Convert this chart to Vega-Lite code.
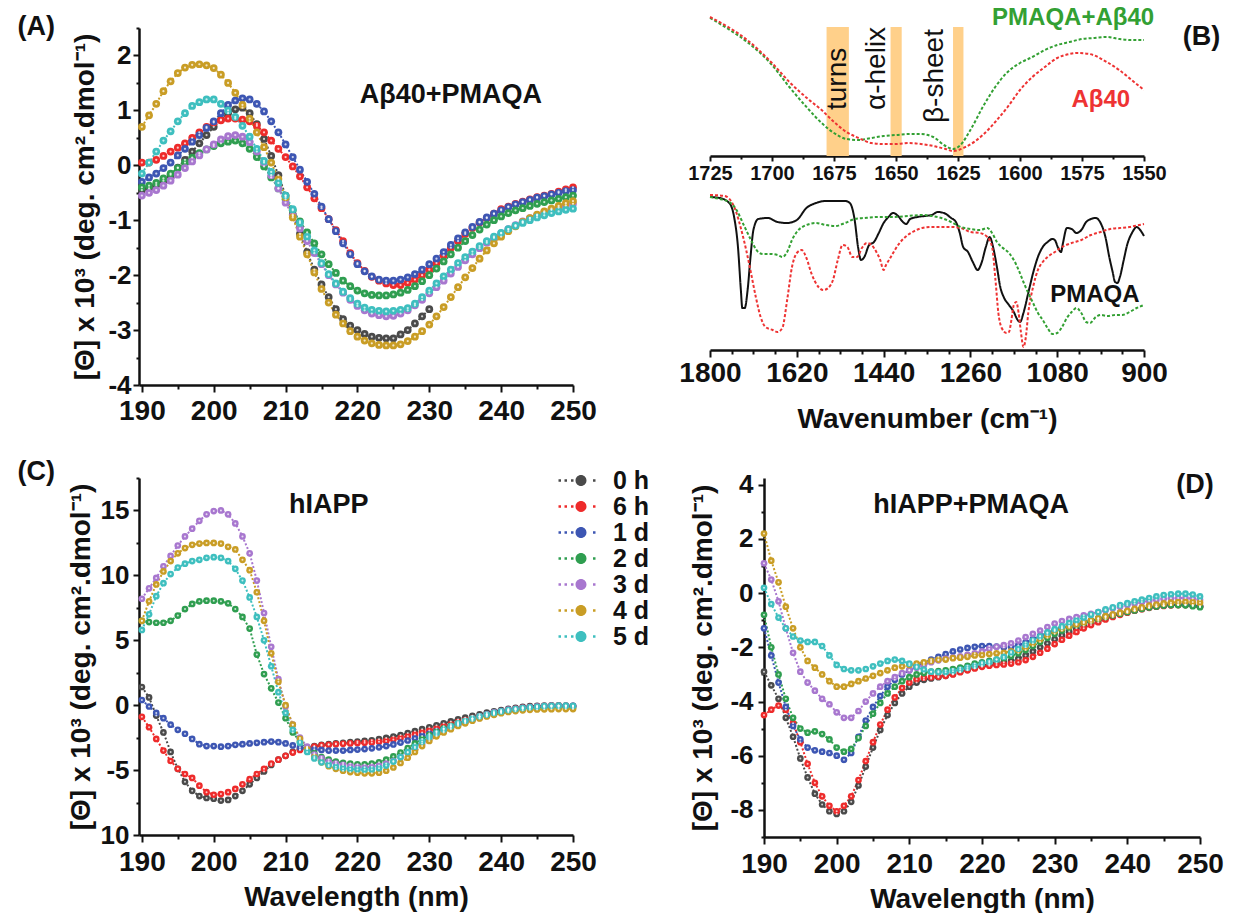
{
"$schema": "https://vega.github.io/schema/vega-lite/v6.json",
"background": "white",
"padding": {"left": 17, "top": 6, "right": 5, "bottom": 0},
"config": {
  "font": "Liberation Sans",
  "view": {"stroke": null},
  "axis": {"grid": false, "domainColor": "#111", "domainWidth": 2.5, "tickColor": "#111", "tickWidth": 2, "labelColor": "#111", "titleColor": "#111", "labelFontWeight": "bold", "labelFontSize": 28, "titleFontWeight": "bold", "titleFontSize": 28, "labelFlush": false, "labelOverlap": false},
  "axisY": {"labelFontSize": 26}
},
"datasets": {
  "A": [
    {"w":190,"0 h":-0.45,"6 h":0.05,"1 d":-0.3,"2 d":-0.4,"3 d":-0.55,"4 d":0.7,"5 d":-0.15},
    {"w":191,"0 h":-0.42,"6 h":0.05,"1 d":-0.22,"2 d":-0.37,"3 d":-0.5,"4 d":0.91,"5 d":0.05},
    {"w":192,"0 h":-0.36,"6 h":0.1,"1 d":-0.15,"2 d":-0.32,"3 d":-0.45,"4 d":1.12,"5 d":0.25},
    {"w":193,"0 h":-0.28,"6 h":0.17,"1 d":-0.05,"2 d":-0.24,"3 d":-0.37,"4 d":1.35,"5 d":0.45},
    {"w":194,"0 h":-0.17,"6 h":0.25,"1 d":0.05,"2 d":-0.15,"3 d":-0.28,"4 d":1.53,"5 d":0.62},
    {"w":195,"0 h":-0.04,"6 h":0.32,"1 d":0.18,"2 d":-0.05,"3 d":-0.17,"4 d":1.68,"5 d":0.8},
    {"w":196,"0 h":0.1,"6 h":0.4,"1 d":0.3,"2 d":0.05,"3 d":-0.05,"4 d":1.78,"5 d":0.95},
    {"w":197,"0 h":0.25,"6 h":0.5,"1 d":0.43,"2 d":0.14,"3 d":0.07,"4 d":1.83,"5 d":1.08},
    {"w":198,"0 h":0.4,"6 h":0.6,"1 d":0.55,"2 d":0.22,"3 d":0.18,"4 d":1.84,"5 d":1.15},
    {"w":199,"0 h":0.55,"6 h":0.7,"1 d":0.68,"2 d":0.29,"3 d":0.29,"4 d":1.82,"5 d":1.2},
    {"w":200,"0 h":0.7,"6 h":0.78,"1 d":0.8,"2 d":0.35,"3 d":0.38,"4 d":1.77,"5 d":1.2},
    {"w":201,"0 h":0.83,"6 h":0.82,"1 d":0.95,"2 d":0.4,"3 d":0.47,"4 d":1.65,"5 d":1.12},
    {"w":202,"0 h":0.95,"6 h":0.85,"1 d":1.1,"2 d":0.43,"3 d":0.53,"4 d":1.5,"5 d":1.0},
    {"w":203,"0 h":1.02,"6 h":0.85,"1 d":1.18,"2 d":0.45,"3 d":0.55,"4 d":1.32,"5 d":0.88},
    {"w":204,"0 h":1.05,"6 h":0.83,"1 d":1.22,"2 d":0.4,"3 d":0.52,"4 d":1.1,"5 d":0.72},
    {"w":205,"0 h":0.95,"6 h":0.8,"1 d":1.2,"2 d":0.3,"3 d":0.42,"4 d":0.85,"5 d":0.52},
    {"w":206,"0 h":0.75,"6 h":0.72,"1 d":1.12,"2 d":0.15,"3 d":0.25,"4 d":0.6,"5 d":0.3},
    {"w":207,"0 h":0.48,"6 h":0.6,"1 d":0.98,"2 d":-0.02,"3 d":0.05,"4 d":0.33,"5 d":0.08},
    {"w":208,"0 h":0.17,"6 h":0.45,"1 d":0.8,"2 d":-0.22,"3 d":-0.18,"4 d":0.05,"5 d":-0.12},
    {"w":209,"0 h":-0.18,"6 h":0.3,"1 d":0.6,"2 d":-0.42,"3 d":-0.42,"4 d":-0.25,"5 d":-0.32},
    {"w":210,"0 h":-0.55,"6 h":0.15,"1 d":0.38,"2 d":-0.62,"3 d":-0.68,"4 d":-0.58,"5 d":-0.55},
    {"w":211,"0 h":-0.9,"6 h":-0.02,"1 d":0.15,"2 d":-0.82,"3 d":-0.92,"4 d":-0.95,"5 d":-0.8},
    {"w":212,"0 h":-1.25,"6 h":-0.2,"1 d":-0.08,"2 d":-1.02,"3 d":-1.15,"4 d":-1.3,"5 d":-1.05},
    {"w":213,"0 h":-1.58,"6 h":-0.4,"1 d":-0.3,"2 d":-1.22,"3 d":-1.38,"4 d":-1.62,"5 d":-1.3},
    {"w":214,"0 h":-1.9,"6 h":-0.6,"1 d":-0.52,"2 d":-1.42,"3 d":-1.6,"4 d":-1.95,"5 d":-1.55},
    {"w":215,"0 h":-2.17,"6 h":-0.78,"1 d":-0.75,"2 d":-1.62,"3 d":-1.8,"4 d":-2.25,"5 d":-1.78},
    {"w":216,"0 h":-2.4,"6 h":-0.98,"1 d":-0.98,"2 d":-1.8,"3 d":-2.0,"4 d":-2.5,"5 d":-1.98},
    {"w":217,"0 h":-2.62,"6 h":-1.18,"1 d":-1.2,"2 d":-1.96,"3 d":-2.17,"4 d":-2.72,"5 d":-2.15},
    {"w":218,"0 h":-2.8,"6 h":-1.38,"1 d":-1.42,"2 d":-2.1,"3 d":-2.32,"4 d":-2.88,"5 d":-2.3},
    {"w":219,"0 h":-2.92,"6 h":-1.6,"1 d":-1.62,"2 d":-2.2,"3 d":-2.45,"4 d":-3.02,"5 d":-2.42},
    {"w":220,"0 h":-3.0,"6 h":-1.78,"1 d":-1.8,"2 d":-2.28,"3 d":-2.56,"4 d":-3.12,"5 d":-2.52},
    {"w":221,"0 h":-3.07,"6 h":-1.92,"1 d":-1.93,"2 d":-2.33,"3 d":-2.64,"4 d":-3.19,"5 d":-2.59},
    {"w":222,"0 h":-3.12,"6 h":-2.03,"1 d":-2.02,"2 d":-2.36,"3 d":-2.7,"4 d":-3.24,"5 d":-2.63},
    {"w":223,"0 h":-3.14,"6 h":-2.1,"1 d":-2.08,"2 d":-2.37,"3 d":-2.73,"4 d":-3.27,"5 d":-2.65},
    {"w":224,"0 h":-3.15,"6 h":-2.15,"1 d":-2.1,"2 d":-2.37,"3 d":-2.75,"4 d":-3.28,"5 d":-2.66},
    {"w":225,"0 h":-3.15,"6 h":-2.18,"1 d":-2.1,"2 d":-2.35,"3 d":-2.74,"4 d":-3.28,"5 d":-2.65},
    {"w":226,"0 h":-3.08,"6 h":-2.18,"1 d":-2.08,"2 d":-2.32,"3 d":-2.7,"4 d":-3.26,"5 d":-2.63},
    {"w":227,"0 h":-3.0,"6 h":-2.14,"1 d":-2.04,"2 d":-2.27,"3 d":-2.64,"4 d":-3.2,"5 d":-2.6},
    {"w":228,"0 h":-2.88,"6 h":-2.08,"1 d":-1.98,"2 d":-2.2,"3 d":-2.55,"4 d":-3.12,"5 d":-2.52},
    {"w":229,"0 h":-2.75,"6 h":-2.0,"1 d":-1.9,"2 d":-2.11,"3 d":-2.45,"4 d":-3.02,"5 d":-2.4},
    {"w":230,"0 h":-2.62,"6 h":-1.9,"1 d":-1.8,"2 d":-2.0,"3 d":-2.33,"4 d":-2.9,"5 d":-2.28},
    {"w":231,"6 h":-1.78,"1 d":-1.7,"2 d":-1.88,"3 d":-2.22,"4 d":-2.75,"5 d":-2.15},
    {"w":232,"6 h":-1.64,"1 d":-1.58,"2 d":-1.75,"3 d":-2.1,"4 d":-2.58,"5 d":-2.02},
    {"w":233,"6 h":-1.5,"1 d":-1.45,"2 d":-1.62,"3 d":-1.97,"4 d":-2.4,"5 d":-1.9},
    {"w":234,"6 h":-1.38,"1 d":-1.33,"2 d":-1.5,"3 d":-1.85,"4 d":-2.22,"5 d":-1.78},
    {"w":235,"6 h":-1.25,"1 d":-1.22,"2 d":-1.38,"3 d":-1.73,"4 d":-2.04,"5 d":-1.67},
    {"w":236,"6 h":-1.14,"1 d":-1.12,"2 d":-1.27,"3 d":-1.62,"4 d":-1.87,"5 d":-1.57},
    {"w":237,"6 h":-1.04,"1 d":-1.03,"2 d":-1.17,"3 d":-1.51,"4 d":-1.7,"5 d":-1.47},
    {"w":238,"6 h":-0.96,"1 d":-0.95,"2 d":-1.08,"3 d":-1.41,"4 d":-1.55,"5 d":-1.38},
    {"w":239,"6 h":-0.88,"1 d":-0.88,"2 d":-1.0,"3 d":-1.32,"4 d":-1.42,"5 d":-1.3},
    {"w":240,"6 h":-0.8,"1 d":-0.82,"2 d":-0.93,"3 d":-1.24,"4 d":-1.3,"5 d":-1.23},
    {"w":241,"6 h":-0.75,"1 d":-0.76,"2 d":-0.87,"3 d":-1.16,"4 d":-1.2,"5 d":-1.16},
    {"w":242,"6 h":-0.7,"1 d":-0.71,"2 d":-0.82,"3 d":-1.09,"4 d":-1.11,"5 d":-1.1},
    {"w":243,"6 h":-0.66,"1 d":-0.67,"2 d":-0.78,"3 d":-1.02,"4 d":-1.03,"5 d":-1.05},
    {"w":244,"6 h":-0.62,"1 d":-0.63,"2 d":-0.74,"3 d":-0.96,"4 d":-0.96,"5 d":-1.0},
    {"w":245,"6 h":-0.58,"1 d":-0.59,"2 d":-0.7,"3 d":-0.91,"4 d":-0.9,"5 d":-0.95},
    {"w":246,"6 h":-0.55,"1 d":-0.56,"2 d":-0.67,"3 d":-0.86,"4 d":-0.84,"5 d":-0.91},
    {"w":247,"6 h":-0.52,"1 d":-0.53,"2 d":-0.64,"3 d":-0.81,"4 d":-0.79,"5 d":-0.87},
    {"w":248,"6 h":-0.48,"1 d":-0.5,"2 d":-0.61,"3 d":-0.77,"4 d":-0.74,"5 d":-0.84},
    {"w":249,"6 h":-0.44,"1 d":-0.47,"2 d":-0.58,"3 d":-0.73,"4 d":-0.69,"5 d":-0.81},
    {"w":250,"6 h":-0.4,"1 d":-0.45,"2 d":-0.55,"3 d":-0.7,"4 d":-0.65,"5 d":-0.79}
  ],
  "C": [
    {"w":190,"0 h":1.4,"6 h":-0.9,"1 d":0.4,"2 d":6.5,"3 d":8.2,"4 d":6.5,"5 d":5.8},
    {"w":191,"0 h":0.6,"6 h":-1.7,"1 d":-0.1,"2 d":6.4,"3 d":9.0,"4 d":8.0,"5 d":7.0},
    {"w":192,"0 h":-0.8,"6 h":-2.6,"1 d":-0.6,"2 d":6.35,"3 d":9.8,"4 d":9.3,"5 d":8.4},
    {"w":193,"0 h":-2.1,"6 h":-3.5,"1 d":-1.0,"2 d":6.35,"3 d":10.7,"4 d":10.3,"5 d":9.4},
    {"w":194,"0 h":-3.6,"6 h":-4.3,"1 d":-1.5,"2 d":6.5,"3 d":11.5,"4 d":11.1,"5 d":10.1},
    {"w":195,"0 h":-4.9,"6 h":-4.9,"1 d":-1.9,"2 d":6.9,"3 d":12.3,"4 d":11.7,"5 d":10.6},
    {"w":196,"0 h":-5.9,"6 h":-5.3,"1 d":-2.2,"2 d":7.4,"3 d":13.0,"4 d":12.1,"5 d":10.9},
    {"w":197,"0 h":-6.6,"6 h":-5.6,"1 d":-2.6,"2 d":7.8,"3 d":13.6,"4 d":12.35,"5 d":11.1},
    {"w":198,"0 h":-7.0,"6 h":-6.2,"1 d":-3.0,"2 d":8.0,"3 d":14.2,"4 d":12.45,"5 d":11.2},
    {"w":199,"0 h":-7.15,"6 h":-6.7,"1 d":-3.15,"2 d":8.05,"3 d":14.7,"4 d":12.5,"5 d":11.35},
    {"w":200,"0 h":-7.2,"6 h":-6.9,"1 d":-3.15,"2 d":8.05,"3 d":14.95,"4 d":12.5,"5 d":11.4},
    {"w":201,"0 h":-7.35,"6 h":-6.85,"1 d":-3.2,"2 d":8.0,"3 d":15.0,"4 d":12.45,"5 d":11.35},
    {"w":202,"0 h":-7.3,"6 h":-6.7,"1 d":-3.15,"2 d":7.85,"3 d":14.7,"4 d":12.2,"5 d":11.1},
    {"w":203,"0 h":-7.0,"6 h":-6.45,"1 d":-3.05,"2 d":7.4,"3 d":14.0,"4 d":12.0,"5 d":10.5},
    {"w":204,"0 h":-6.6,"6 h":-6.1,"1 d":-3.0,"2 d":6.8,"3 d":13.0,"4 d":11.2,"5 d":9.6},
    {"w":205,"0 h":-6.1,"6 h":-5.7,"1 d":-2.95,"2 d":5.9,"3 d":11.7,"4 d":10.4,"5 d":8.3},
    {"w":206,"0 h":-5.6,"6 h":-5.3,"1 d":-2.9,"2 d":3.9,"3 d":9.6,"4 d":8.7,"5 d":6.8},
    {"w":207,"0 h":-5.1,"6 h":-4.9,"1 d":-2.85,"2 d":2.4,"3 d":7.1,"4 d":6.5,"5 d":5.0},
    {"w":208,"0 h":-4.6,"6 h":-4.5,"1 d":-2.8,"2 d":1.3,"3 d":4.5,"4 d":4.0,"5 d":3.0},
    {"w":209,"0 h":-4.2,"6 h":-4.2,"1 d":-2.85,"2 d":0.2,"3 d":2.0,"4 d":1.8,"5 d":1.0},
    {"w":210,"0 h":-3.9,"6 h":-3.9,"1 d":-2.95,"2 d":-1.0,"3 d":-0.1,"4 d":0.0,"5 d":-0.6},
    {"w":211,"0 h":-3.6,"6 h":-3.65,"1 d":-3.1,"2 d":-2.1,"3 d":-1.5,"4 d":-1.5,"5 d":-1.9},
    {"w":212,"0 h":-3.4,"6 h":-3.45,"1 d":-3.25,"2 d":-2.8,"3 d":-2.5,"4 d":-2.6,"5 d":-2.9},
    {"w":213,"0 h":-3.25,"6 h":-3.3,"1 d":-3.35,"2 d":-3.3,"3 d":-3.2,"4 d":-3.4,"5 d":-3.6},
    {"w":214,"0 h":-3.15,"6 h":-3.2,"1 d":-3.4,"2 d":-3.7,"3 d":-3.8,"4 d":-4.0,"5 d":-4.1},
    {"w":215,"0 h":-3.05,"6 h":-3.1,"1 d":-3.45,"2 d":-4.0,"3 d":-4.1,"4 d":-4.4,"5 d":-4.4},
    {"w":216,"0 h":-3.0,"6 h":-3.05,"1 d":-3.5,"2 d":-4.2,"3 d":-4.35,"4 d":-4.7,"5 d":-4.6},
    {"w":217,"0 h":-2.95,"6 h":-3.0,"1 d":-3.5,"2 d":-4.35,"3 d":-4.5,"4 d":-4.9,"5 d":-4.75},
    {"w":218,"0 h":-2.9,"6 h":-2.97,"1 d":-3.5,"2 d":-4.45,"3 d":-4.6,"4 d":-5.05,"5 d":-4.85},
    {"w":219,"0 h":-2.85,"6 h":-2.95,"1 d":-3.45,"2 d":-4.5,"3 d":-4.7,"4 d":-5.15,"5 d":-4.92},
    {"w":220,"0 h":-2.8,"6 h":-2.92,"1 d":-3.42,"2 d":-4.55,"3 d":-4.75,"4 d":-5.2,"5 d":-4.95},
    {"w":221,"0 h":-2.75,"6 h":-2.9,"1 d":-3.38,"2 d":-4.55,"3 d":-4.78,"4 d":-5.25,"5 d":-4.97},
    {"w":222,"0 h":-2.7,"6 h":-2.87,"1 d":-3.32,"2 d":-4.5,"3 d":-4.75,"4 d":-5.25,"5 d":-4.95},
    {"w":223,"0 h":-2.62,"6 h":-2.82,"1 d":-3.25,"2 d":-4.4,"3 d":-4.65,"4 d":-5.2,"5 d":-4.85},
    {"w":224,"0 h":-2.52,"6 h":-2.75,"1 d":-3.15,"2 d":-4.2,"3 d":-4.5,"4 d":-5.05,"5 d":-4.65},
    {"w":225,"0 h":-2.42,"6 h":-2.65,"1 d":-3.02,"2 d":-3.95,"3 d":-4.3,"4 d":-4.8,"5 d":-4.35},
    {"w":226,"0 h":-2.3,"6 h":-2.53,"1 d":-2.88,"2 d":-3.65,"3 d":-4.0,"4 d":-4.45,"5 d":-4.0},
    {"w":227,"0 h":-2.15,"6 h":-2.4,"1 d":-2.72,"2 d":-3.3,"3 d":-3.65,"4 d":-4.05,"5 d":-3.6},
    {"w":228,"0 h":-2.0,"6 h":-2.25,"1 d":-2.55,"2 d":-2.95,"3 d":-3.3,"4 d":-3.6,"5 d":-3.2},
    {"w":229,"0 h":-1.85,"6 h":-2.1,"1 d":-2.37,"2 d":-2.6,"3 d":-2.95,"4 d":-3.15,"5 d":-2.8},
    {"w":230,"0 h":-1.7,"6 h":-1.95,"1 d":-2.18,"2 d":-2.3,"3 d":-2.6,"4 d":-2.75,"5 d":-2.45},
    {"w":231,"0 h":-1.55,"6 h":-1.8,"1 d":-2.0,"2 d":-2.05,"3 d":-2.3,"4 d":-2.4,"5 d":-2.15},
    {"w":232,"0 h":-1.4,"6 h":-1.63,"1 d":-1.82,"2 d":-1.8,"3 d":-2.0,"4 d":-2.1,"5 d":-1.88},
    {"w":233,"0 h":-1.25,"6 h":-1.47,"1 d":-1.65,"2 d":-1.6,"3 d":-1.75,"4 d":-1.85,"5 d":-1.63},
    {"w":234,"0 h":-1.1,"6 h":-1.3,"1 d":-1.48,"2 d":-1.4,"3 d":-1.5,"4 d":-1.6,"5 d":-1.4},
    {"w":235,"0 h":-0.96,"6 h":-1.15,"1 d":-1.3,"2 d":-1.22,"3 d":-1.28,"4 d":-1.4,"5 d":-1.2},
    {"w":236,"0 h":-0.82,"6 h":-1.0,"1 d":-1.13,"2 d":-1.05,"3 d":-1.05,"4 d":-1.2,"5 d":-1.02},
    {"w":237,"0 h":-0.7,"6 h":-0.86,"1 d":-0.97,"2 d":-0.9,"3 d":-0.87,"4 d":-1.02,"5 d":-0.86},
    {"w":238,"0 h":-0.58,"6 h":-0.72,"1 d":-0.82,"2 d":-0.76,"3 d":-0.7,"4 d":-0.87,"5 d":-0.72},
    {"w":239,"0 h":-0.47,"6 h":-0.6,"1 d":-0.68,"2 d":-0.63,"3 d":-0.56,"4 d":-0.74,"5 d":-0.6},
    {"w":240,"0 h":-0.37,"6 h":-0.48,"1 d":-0.55,"2 d":-0.52,"3 d":-0.45,"4 d":-0.62,"5 d":-0.48},
    {"w":241,"0 h":-0.28,"6 h":-0.37,"1 d":-0.43,"2 d":-0.42,"3 d":-0.35,"4 d":-0.52,"5 d":-0.38},
    {"w":242,"0 h":-0.2,"6 h":-0.28,"1 d":-0.33,"2 d":-0.34,"3 d":-0.28,"4 d":-0.45,"5 d":-0.3},
    {"w":243,"0 h":-0.13,"6 h":-0.2,"1 d":-0.25,"2 d":-0.27,"3 d":-0.2,"4 d":-0.4,"5 d":-0.22},
    {"w":244,"0 h":-0.08,"6 h":-0.14,"1 d":-0.18,"2 d":-0.22,"3 d":-0.15,"4 d":-0.36,"5 d":-0.16},
    {"w":245,"0 h":-0.05,"6 h":-0.1,"1 d":-0.13,"2 d":-0.18,"3 d":-0.1,"4 d":-0.33,"5 d":-0.12},
    {"w":246,"0 h":-0.03,"6 h":-0.07,"1 d":-0.1,"2 d":-0.15,"3 d":-0.08,"4 d":-0.32,"5 d":-0.08},
    {"w":247,"0 h":-0.02,"6 h":-0.05,"1 d":-0.08,"2 d":-0.14,"3 d":-0.06,"4 d":-0.31,"5 d":-0.05},
    {"w":248,"0 h":-0.02,"6 h":-0.05,"1 d":-0.07,"2 d":-0.14,"3 d":-0.05,"4 d":-0.3,"5 d":-0.04},
    {"w":249,"0 h":-0.03,"6 h":-0.05,"1 d":-0.07,"2 d":-0.15,"3 d":-0.05,"4 d":-0.3,"5 d":-0.04},
    {"w":250,"0 h":-0.05,"6 h":-0.07,"1 d":-0.08,"2 d":-0.2,"3 d":-0.05,"4 d":-0.3,"5 d":-0.05}
  ],
  "D": [
    {"w":190,"0 h":-2.9,"6 h":-4.5,"1 d":-1.3,"2 d":-0.8,"3 d":1.1,"4 d":2.2,"5 d":0.2},
    {"w":191,"0 h":-3.4,"6 h":-4.3,"1 d":-2.3,"2 d":-2.0,"3 d":0.5,"4 d":1.2,"5 d":-0.4},
    {"w":192,"0 h":-3.9,"6 h":-4.15,"1 d":-3.3,"2 d":-3.0,"3 d":-0.3,"4 d":0.4,"5 d":-0.9},
    {"w":193,"0 h":-4.6,"6 h":-4.3,"1 d":-4.2,"2 d":-3.9,"3 d":-1.3,"4 d":-0.5,"5 d":-1.3},
    {"w":194,"0 h":-5.3,"6 h":-4.8,"1 d":-4.9,"2 d":-4.6,"3 d":-2.2,"4 d":-1.3,"5 d":-1.6},
    {"w":195,"0 h":-6.1,"6 h":-5.5,"1 d":-5.4,"2 d":-5.0,"3 d":-2.9,"4 d":-2.0,"5 d":-1.75},
    {"w":196,"0 h":-6.8,"6 h":-6.3,"1 d":-5.7,"2 d":-5.15,"3 d":-3.3,"4 d":-2.5,"5 d":-1.8},
    {"w":197,"0 h":-7.4,"6 h":-7.0,"1 d":-5.8,"2 d":-5.1,"3 d":-3.6,"4 d":-2.75,"5 d":-1.8},
    {"w":198,"0 h":-7.8,"6 h":-7.5,"1 d":-5.85,"2 d":-5.2,"3 d":-3.9,"4 d":-3.0,"5 d":-1.95},
    {"w":199,"0 h":-8.05,"6 h":-7.85,"1 d":-5.9,"2 d":-5.4,"3 d":-4.1,"4 d":-3.25,"5 d":-2.3},
    {"w":200,"0 h":-8.15,"6 h":-8.05,"1 d":-6.0,"2 d":-5.7,"3 d":-4.4,"4 d":-3.45,"5 d":-2.65},
    {"w":201,"0 h":-8.05,"6 h":-7.85,"1 d":-6.15,"2 d":-5.85,"3 d":-4.6,"4 d":-3.45,"5 d":-2.8},
    {"w":202,"0 h":-7.7,"6 h":-7.5,"1 d":-5.9,"2 d":-5.75,"3 d":-4.6,"4 d":-3.35,"5 d":-2.85},
    {"w":203,"0 h":-7.1,"6 h":-6.9,"1 d":-5.3,"2 d":-5.35,"3 d":-4.35,"4 d":-3.25,"5 d":-2.85},
    {"w":204,"0 h":-6.4,"6 h":-6.2,"1 d":-4.7,"2 d":-4.9,"3 d":-4.0,"4 d":-3.15,"5 d":-2.8},
    {"w":205,"0 h":-5.7,"6 h":-5.5,"1 d":-4.2,"2 d":-4.45,"3 d":-3.7,"4 d":-3.05,"5 d":-2.7},
    {"w":206,"0 h":-5.05,"6 h":-4.85,"1 d":-3.8,"2 d":-4.05,"3 d":-3.45,"4 d":-2.95,"5 d":-2.6},
    {"w":207,"0 h":-4.5,"6 h":-4.3,"1 d":-3.45,"2 d":-3.7,"3 d":-3.25,"4 d":-2.85,"5 d":-2.5},
    {"w":208,"0 h":-4.05,"6 h":-3.85,"1 d":-3.2,"2 d":-3.45,"3 d":-3.1,"4 d":-2.75,"5 d":-2.45},
    {"w":209,"0 h":-3.7,"6 h":-3.5,"1 d":-3.0,"2 d":-3.25,"3 d":-2.95,"4 d":-2.7,"5 d":-2.5},
    {"w":210,"0 h":-3.45,"6 h":-3.3,"1 d":-2.85,"2 d":-3.1,"3 d":-2.85,"4 d":-2.65,"5 d":-2.6},
    {"w":211,"0 h":-3.3,"6 h":-3.18,"1 d":-2.7,"2 d":-3.0,"3 d":-2.75,"4 d":-2.6,"5 d":-2.72},
    {"w":212,"0 h":-3.2,"6 h":-3.12,"1 d":-2.58,"2 d":-2.95,"3 d":-2.65,"4 d":-2.55,"5 d":-2.82},
    {"w":213,"0 h":-3.15,"6 h":-3.1,"1 d":-2.45,"2 d":-2.9,"3 d":-2.55,"4 d":-2.5,"5 d":-2.9},
    {"w":214,"0 h":-3.1,"6 h":-3.08,"1 d":-2.35,"2 d":-2.88,"3 d":-2.48,"4 d":-2.45,"5 d":-2.92},
    {"w":215,"0 h":-3.05,"6 h":-3.05,"1 d":-2.25,"2 d":-2.85,"3 d":-2.42,"4 d":-2.45,"5 d":-2.92},
    {"w":216,"0 h":-2.98,"6 h":-3.0,"1 d":-2.15,"2 d":-2.8,"3 d":-2.38,"4 d":-2.4,"5 d":-2.88},
    {"w":217,"0 h":-2.9,"6 h":-2.92,"1 d":-2.08,"2 d":-2.75,"3 d":-2.33,"4 d":-2.38,"5 d":-2.82},
    {"w":218,"0 h":-2.82,"6 h":-2.85,"1 d":-2.02,"2 d":-2.68,"3 d":-2.28,"4 d":-2.35,"5 d":-2.75},
    {"w":219,"0 h":-2.75,"6 h":-2.78,"1 d":-1.98,"2 d":-2.6,"3 d":-2.22,"4 d":-2.3,"5 d":-2.68},
    {"w":220,"0 h":-2.68,"6 h":-2.72,"1 d":-1.95,"2 d":-2.55,"3 d":-2.15,"4 d":-2.28,"5 d":-2.6},
    {"w":221,"0 h":-2.62,"6 h":-2.68,"1 d":-1.95,"2 d":-2.5,"3 d":-2.05,"4 d":-2.25,"5 d":-2.55},
    {"w":222,"0 h":-2.58,"6 h":-2.65,"1 d":-1.97,"2 d":-2.45,"3 d":-1.98,"4 d":-2.22,"5 d":-2.45},
    {"w":223,"0 h":-2.55,"6 h":-2.63,"1 d":-2.0,"2 d":-2.4,"3 d":-1.92,"4 d":-2.2,"5 d":-2.35},
    {"w":224,"0 h":-2.5,"6 h":-2.6,"1 d":-1.98,"2 d":-2.32,"3 d":-1.85,"4 d":-2.15,"5 d":-2.2},
    {"w":225,"0 h":-2.42,"6 h":-2.55,"1 d":-1.92,"2 d":-2.22,"3 d":-1.75,"4 d":-2.1,"5 d":-2.05},
    {"w":226,"0 h":-2.3,"6 h":-2.47,"1 d":-1.82,"2 d":-2.1,"3 d":-1.62,"4 d":-2.0,"5 d":-1.9},
    {"w":227,"0 h":-2.15,"6 h":-2.35,"1 d":-1.7,"2 d":-1.95,"3 d":-1.5,"4 d":-1.85,"5 d":-1.75},
    {"w":228,"0 h":-2.0,"6 h":-2.2,"1 d":-1.58,"2 d":-1.8,"3 d":-1.38,"4 d":-1.7,"5 d":-1.6},
    {"w":229,"0 h":-1.85,"6 h":-2.05,"1 d":-1.47,"2 d":-1.65,"3 d":-1.25,"4 d":-1.55,"5 d":-1.45},
    {"w":230,"0 h":-1.7,"6 h":-1.88,"1 d":-1.37,"2 d":-1.5,"3 d":-1.12,"4 d":-1.4,"5 d":-1.33},
    {"w":231,"0 h":-1.55,"6 h":-1.72,"1 d":-1.28,"2 d":-1.38,"3 d":-1.03,"4 d":-1.3,"5 d":-1.22},
    {"w":232,"0 h":-1.42,"6 h":-1.57,"1 d":-1.2,"2 d":-1.27,"3 d":-0.95,"4 d":-1.22,"5 d":-1.1},
    {"w":233,"0 h":-1.3,"6 h":-1.43,"1 d":-1.13,"2 d":-1.18,"3 d":-0.88,"4 d":-1.15,"5 d":-1.0},
    {"w":234,"0 h":-1.2,"6 h":-1.3,"1 d":-1.06,"2 d":-1.1,"3 d":-0.82,"4 d":-1.08,"5 d":-0.9},
    {"w":235,"0 h":-1.1,"6 h":-1.18,"1 d":-1.0,"2 d":-1.02,"3 d":-0.76,"4 d":-1.0,"5 d":-0.8},
    {"w":236,"0 h":-1.0,"6 h":-1.07,"1 d":-0.93,"2 d":-0.95,"3 d":-0.7,"4 d":-0.93,"5 d":-0.7},
    {"w":237,"0 h":-0.92,"6 h":-0.97,"1 d":-0.86,"2 d":-0.88,"3 d":-0.63,"4 d":-0.85,"5 d":-0.6},
    {"w":238,"0 h":-0.84,"6 h":-0.88,"1 d":-0.8,"2 d":-0.82,"3 d":-0.56,"4 d":-0.78,"5 d":-0.52},
    {"w":239,"0 h":-0.77,"6 h":-0.8,"1 d":-0.74,"2 d":-0.76,"3 d":-0.5,"4 d":-0.72,"5 d":-0.44},
    {"w":240,"0 h":-0.7,"6 h":-0.72,"1 d":-0.68,"2 d":-0.7,"3 d":-0.44,"4 d":-0.65,"5 d":-0.37},
    {"w":241,"0 h":-0.64,"6 h":-0.65,"1 d":-0.62,"2 d":-0.64,"3 d":-0.38,"4 d":-0.58,"5 d":-0.3},
    {"w":242,"0 h":-0.58,"6 h":-0.59,"1 d":-0.56,"2 d":-0.58,"3 d":-0.33,"4 d":-0.52,"5 d":-0.24},
    {"w":243,"0 h":-0.53,"6 h":-0.54,"1 d":-0.51,"2 d":-0.53,"3 d":-0.28,"4 d":-0.46,"5 d":-0.18},
    {"w":244,"0 h":-0.49,"6 h":-0.5,"1 d":-0.47,"2 d":-0.49,"3 d":-0.24,"4 d":-0.42,"5 d":-0.12},
    {"w":245,"0 h":-0.46,"6 h":-0.47,"1 d":-0.44,"2 d":-0.46,"3 d":-0.21,"4 d":-0.38,"5 d":-0.07},
    {"w":246,"0 h":-0.44,"6 h":-0.45,"1 d":-0.42,"2 d":-0.44,"3 d":-0.19,"4 d":-0.35,"5 d":-0.04},
    {"w":247,"0 h":-0.43,"6 h":-0.44,"1 d":-0.41,"2 d":-0.44,"3 d":-0.18,"4 d":-0.33,"5 d":-0.02},
    {"w":248,"0 h":-0.43,"6 h":-0.44,"1 d":-0.42,"2 d":-0.45,"3 d":-0.18,"4 d":-0.32,"5 d":-0.02},
    {"w":249,"0 h":-0.45,"6 h":-0.46,"1 d":-0.44,"2 d":-0.48,"3 d":-0.2,"4 d":-0.33,"5 d":-0.05},
    {"w":250,"0 h":-0.48,"6 h":-0.5,"1 d":-0.48,"2 d":-0.52,"3 d":-0.25,"4 d":-0.35,"5 d":-0.12}
  ],
  "B1": [
    {"s":"PMAQA+Aβ40","w":1725,"v":138},{"s":"PMAQA+Aβ40","w":1717,"v":126},{"s":"PMAQA+Aβ40","w":1710,"v":114},{"s":"PMAQA+Aβ40","w":1700,"v":91},{"s":"PMAQA+Aβ40","w":1693,"v":69},{"s":"PMAQA+Aβ40","w":1685,"v":46},{"s":"PMAQA+Aβ40","w":1680,"v":33},{"s":"PMAQA+Aβ40","w":1675,"v":23},{"s":"PMAQA+Aβ40","w":1670,"v":17},{"s":"PMAQA+Aβ40","w":1665,"v":16},{"s":"PMAQA+Aβ40","w":1660,"v":18},{"s":"PMAQA+Aβ40","w":1655,"v":20},{"s":"PMAQA+Aβ40","w":1650,"v":21},{"s":"PMAQA+Aβ40","w":1645,"v":22},{"s":"PMAQA+Aβ40","w":1640,"v":22},{"s":"PMAQA+Aβ40","w":1635,"v":19},{"s":"PMAQA+Aβ40","w":1630,"v":10},{"s":"PMAQA+Aβ40","w":1627,"v":7},{"s":"PMAQA+Aβ40","w":1624,"v":11},{"s":"PMAQA+Aβ40","w":1620,"v":26},{"s":"PMAQA+Aβ40","w":1615,"v":49},{"s":"PMAQA+Aβ40","w":1610,"v":69},{"s":"PMAQA+Aβ40","w":1605,"v":84},{"s":"PMAQA+Aβ40","w":1600,"v":93},{"s":"PMAQA+Aβ40","w":1595,"v":99},{"s":"PMAQA+Aβ40","w":1590,"v":106},{"s":"PMAQA+Aβ40","w":1585,"v":111},{"s":"PMAQA+Aβ40","w":1580,"v":114},{"s":"PMAQA+Aβ40","w":1575,"v":117},{"s":"PMAQA+Aβ40","w":1570,"v":118},{"s":"PMAQA+Aβ40","w":1565,"v":119},{"s":"PMAQA+Aβ40","w":1560,"v":117},{"s":"PMAQA+Aβ40","w":1555,"v":116},{"s":"PMAQA+Aβ40","w":1550,"v":116},
    {"s":"Aβ40","w":1725,"v":139},{"s":"Aβ40","w":1717,"v":128},{"s":"Aβ40","w":1710,"v":116},{"s":"Aβ40","w":1700,"v":93},{"s":"Aβ40","w":1693,"v":74},{"s":"Aβ40","w":1685,"v":56},{"s":"Aβ40","w":1680,"v":46},{"s":"Aβ40","w":1675,"v":34},{"s":"Aβ40","w":1670,"v":24},{"s":"Aβ40","w":1665,"v":18},{"s":"Aβ40","w":1660,"v":13},{"s":"Aβ40","w":1655,"v":12},{"s":"Aβ40","w":1650,"v":12},{"s":"Aβ40","w":1645,"v":13},{"s":"Aβ40","w":1640,"v":12},{"s":"Aβ40","w":1635,"v":10},{"s":"Aβ40","w":1630,"v":7},{"s":"Aβ40","w":1627,"v":5},{"s":"Aβ40","w":1622,"v":9},{"s":"Aβ40","w":1615,"v":21},{"s":"Aβ40","w":1610,"v":34},{"s":"Aβ40","w":1605,"v":49},{"s":"Aβ40","w":1600,"v":66},{"s":"Aβ40","w":1595,"v":79},{"s":"Aβ40","w":1590,"v":89},{"s":"Aβ40","w":1585,"v":98},{"s":"Aβ40","w":1580,"v":102},{"s":"Aβ40","w":1577,"v":103},{"s":"Aβ40","w":1572,"v":102},{"s":"Aβ40","w":1565,"v":94},{"s":"Aβ40","w":1560,"v":86},{"s":"Aβ40","w":1555,"v":76},{"s":"Aβ40","w":1550,"v":66}
  ],
  "B2": [
    {"s":"PMAQA","w":1800,"v":153},{"s":"PMAQA","w":1780,"v":152},{"s":"PMAQA","w":1760,"v":147},{"s":"PMAQA","w":1750,"v":133},{"s":"PMAQA","w":1742,"v":103},{"s":"PMAQA","w":1736,"v":60},{"s":"PMAQA","w":1733,"v":42},{"s":"PMAQA","w":1728,"v":42},{"s":"PMAQA","w":1722,"v":60},{"s":"PMAQA","w":1716,"v":93},{"s":"PMAQA","w":1710,"v":120},{"s":"PMAQA","w":1700,"v":131},{"s":"PMAQA","w":1680,"v":132},{"s":"PMAQA","w":1660,"v":128},{"s":"PMAQA","w":1640,"v":127},{"s":"PMAQA","w":1620,"v":130},{"s":"PMAQA","w":1600,"v":142},{"s":"PMAQA","w":1580,"v":147},{"s":"PMAQA","w":1560,"v":149},{"s":"PMAQA","w":1540,"v":149},{"s":"PMAQA","w":1520,"v":149},{"s":"PMAQA","w":1510,"v":147},{"s":"PMAQA","w":1500,"v":130},{"s":"PMAQA","w":1493,"v":103},{"s":"PMAQA","w":1487,"v":90},{"s":"PMAQA","w":1480,"v":93},{"s":"PMAQA","w":1470,"v":105},{"s":"PMAQA","w":1460,"v":108},{"s":"PMAQA","w":1450,"v":117},{"s":"PMAQA","w":1440,"v":127},{"s":"PMAQA","w":1430,"v":133},{"s":"PMAQA","w":1420,"v":137},{"s":"PMAQA","w":1410,"v":134},{"s":"PMAQA","w":1400,"v":128},{"s":"PMAQA","w":1393,"v":126},{"s":"PMAQA","w":1385,"v":131},{"s":"PMAQA","w":1370,"v":133},{"s":"PMAQA","w":1355,"v":134},{"s":"PMAQA","w":1340,"v":135},{"s":"PMAQA","w":1328,"v":138},{"s":"PMAQA","w":1315,"v":137},{"s":"PMAQA","w":1300,"v":132},{"s":"PMAQA","w":1290,"v":128},{"s":"PMAQA","w":1282,"v":117},{"s":"PMAQA","w":1275,"v":103},{"s":"PMAQA","w":1265,"v":98},{"s":"PMAQA","w":1255,"v":88},{"s":"PMAQA","w":1245,"v":80},{"s":"PMAQA","w":1237,"v":87},{"s":"PMAQA","w":1228,"v":103},{"s":"PMAQA","w":1220,"v":113},{"s":"PMAQA","w":1213,"v":103},{"s":"PMAQA","w":1205,"v":83},{"s":"PMAQA","w":1198,"v":63},{"s":"PMAQA","w":1190,"v":52},{"s":"PMAQA","w":1180,"v":45},{"s":"PMAQA","w":1170,"v":38},{"s":"PMAQA","w":1162,"v":30},{"s":"PMAQA","w":1157,"v":28},{"s":"PMAQA","w":1150,"v":37},{"s":"PMAQA","w":1140,"v":57},{"s":"PMAQA","w":1130,"v":77},{"s":"PMAQA","w":1120,"v":93},{"s":"PMAQA","w":1110,"v":103},{"s":"PMAQA","w":1100,"v":108},{"s":"PMAQA","w":1090,"v":111},{"s":"PMAQA","w":1085,"v":110},{"s":"PMAQA","w":1078,"v":102},{"s":"PMAQA","w":1072,"v":98},{"s":"PMAQA","w":1068,"v":107},{"s":"PMAQA","w":1060,"v":122},{"s":"PMAQA","w":1050,"v":121},{"s":"PMAQA","w":1040,"v":117},{"s":"PMAQA","w":1030,"v":120},{"s":"PMAQA","w":1020,"v":128},{"s":"PMAQA","w":1010,"v":131},{"s":"PMAQA","w":1000,"v":132},{"s":"PMAQA","w":990,"v":127},{"s":"PMAQA","w":980,"v":113},{"s":"PMAQA","w":972,"v":93},{"s":"PMAQA","w":965,"v":78},{"s":"PMAQA","w":960,"v":68},{"s":"PMAQA","w":955,"v":67},{"s":"PMAQA","w":950,"v":73},{"s":"PMAQA","w":942,"v":90},{"s":"PMAQA","w":935,"v":105},{"s":"PMAQA","w":925,"v":117},{"s":"PMAQA","w":915,"v":123},{"s":"PMAQA","w":908,"v":120},{"s":"PMAQA","w":900,"v":114},
    {"s":"Aβ40","w":1800,"v":155},{"s":"Aβ40","w":1770,"v":154},{"s":"Aβ40","w":1755,"v":148},{"s":"Aβ40","w":1745,"v":137},{"s":"Aβ40","w":1735,"v":120},{"s":"Aβ40","w":1725,"v":100},{"s":"Aβ40","w":1715,"v":77},{"s":"Aβ40","w":1705,"v":53},{"s":"Aβ40","w":1695,"v":33},{"s":"Aβ40","w":1685,"v":23},{"s":"Aβ40","w":1670,"v":20},{"s":"Aβ40","w":1660,"v":18},{"s":"Aβ40","w":1650,"v":22},{"s":"Aβ40","w":1640,"v":50},{"s":"Aβ40","w":1630,"v":83},{"s":"Aβ40","w":1620,"v":97},{"s":"Aβ40","w":1610,"v":100},{"s":"Aβ40","w":1600,"v":92},{"s":"Aβ40","w":1590,"v":77},{"s":"Aβ40","w":1575,"v":63},{"s":"Aβ40","w":1565,"v":60},{"s":"Aβ40","w":1555,"v":62},{"s":"Aβ40","w":1545,"v":70},{"s":"Aβ40","w":1535,"v":90},{"s":"Aβ40","w":1525,"v":105},{"s":"Aβ40","w":1515,"v":103},{"s":"Aβ40","w":1505,"v":93},{"s":"Aβ40","w":1495,"v":93},{"s":"Aβ40","w":1485,"v":102},{"s":"Aβ40","w":1475,"v":107},{"s":"Aβ40","w":1465,"v":105},{"s":"Aβ40","w":1455,"v":98},{"s":"Aβ40","w":1447,"v":90},{"s":"Aβ40","w":1440,"v":80},{"s":"Aβ40","w":1435,"v":85},{"s":"Aβ40","w":1425,"v":93},{"s":"Aβ40","w":1410,"v":105},{"s":"Aβ40","w":1395,"v":113},{"s":"Aβ40","w":1380,"v":118},{"s":"Aβ40","w":1360,"v":122},{"s":"Aβ40","w":1340,"v":123},{"s":"Aβ40","w":1320,"v":123},{"s":"Aβ40","w":1300,"v":123},{"s":"Aβ40","w":1280,"v":122},{"s":"Aβ40","w":1260,"v":118},{"s":"Aβ40","w":1240,"v":117},{"s":"Aβ40","w":1225,"v":113},{"s":"Aβ40","w":1215,"v":103},{"s":"Aβ40","w":1208,"v":70},{"s":"Aβ40","w":1202,"v":37},{"s":"Aβ40","w":1195,"v":22},{"s":"Aβ40","w":1185,"v":17},{"s":"Aβ40","w":1180,"v":18},{"s":"Aβ40","w":1175,"v":30},{"s":"Aβ40","w":1170,"v":45},{"s":"Aβ40","w":1165,"v":48},{"s":"Aβ40","w":1160,"v":37},{"s":"Aβ40","w":1155,"v":17},{"s":"Aβ40","w":1150,"v":3},{"s":"Aβ40","w":1145,"v":13},{"s":"Aβ40","w":1140,"v":37},{"s":"Aβ40","w":1130,"v":63},{"s":"Aβ40","w":1120,"v":80},{"s":"Aβ40","w":1110,"v":88},{"s":"Aβ40","w":1100,"v":93},{"s":"Aβ40","w":1085,"v":98},{"s":"Aβ40","w":1070,"v":103},{"s":"Aβ40","w":1050,"v":107},{"s":"Aβ40","w":1030,"v":110},{"s":"Aβ40","w":1010,"v":115},{"s":"Aβ40","w":990,"v":118},{"s":"Aβ40","w":970,"v":121},{"s":"Aβ40","w":950,"v":122},{"s":"Aβ40","w":930,"v":123},{"s":"Aβ40","w":910,"v":125},{"s":"Aβ40","w":900,"v":126},
    {"s":"PMAQA+Aβ40","w":1800,"v":153},{"s":"PMAQA+Aβ40","w":1780,"v":151},{"s":"PMAQA+Aβ40","w":1760,"v":148},{"s":"PMAQA+Aβ40","w":1745,"v":140},{"s":"PMAQA+Aβ40","w":1730,"v":125},{"s":"PMAQA+Aβ40","w":1715,"v":110},{"s":"PMAQA+Aβ40","w":1700,"v":98},{"s":"PMAQA+Aβ40","w":1690,"v":96},{"s":"PMAQA+Aβ40","w":1675,"v":96},{"s":"PMAQA+Aβ40","w":1660,"v":95},{"s":"PMAQA+Aβ40","w":1650,"v":93},{"s":"PMAQA+Aβ40","w":1640,"v":98},{"s":"PMAQA+Aβ40","w":1630,"v":110},{"s":"PMAQA+Aβ40","w":1620,"v":118},{"s":"PMAQA+Aβ40","w":1600,"v":125},{"s":"PMAQA+Aβ40","w":1580,"v":127},{"s":"PMAQA+Aβ40","w":1560,"v":125},{"s":"PMAQA+Aβ40","w":1540,"v":124},{"s":"PMAQA+Aβ40","w":1520,"v":127},{"s":"PMAQA+Aβ40","w":1500,"v":131},{"s":"PMAQA+Aβ40","w":1480,"v":132},{"s":"PMAQA+Aβ40","w":1450,"v":133},{"s":"PMAQA+Aβ40","w":1420,"v":133},{"s":"PMAQA+Aβ40","w":1390,"v":134},{"s":"PMAQA+Aβ40","w":1360,"v":135},{"s":"PMAQA+Aβ40","w":1340,"v":134},{"s":"PMAQA+Aβ40","w":1320,"v":132},{"s":"PMAQA+Aβ40","w":1300,"v":128},{"s":"PMAQA+Aβ40","w":1280,"v":123},{"s":"PMAQA+Aβ40","w":1260,"v":121},{"s":"PMAQA+Aβ40","w":1240,"v":120},{"s":"PMAQA+Aβ40","w":1225,"v":122},{"s":"PMAQA+Aβ40","w":1215,"v":117},{"s":"PMAQA+Aβ40","w":1205,"v":108},{"s":"PMAQA+Aβ40","w":1195,"v":103},{"s":"PMAQA+Aβ40","w":1180,"v":97},{"s":"PMAQA+Aβ40","w":1170,"v":90},{"s":"PMAQA+Aβ40","w":1160,"v":80},{"s":"PMAQA+Aβ40","w":1150,"v":68},{"s":"PMAQA+Aβ40","w":1140,"v":57},{"s":"PMAQA+Aβ40","w":1130,"v":47},{"s":"PMAQA+Aβ40","w":1120,"v":37},{"s":"PMAQA+Aβ40","w":1110,"v":30},{"s":"PMAQA+Aβ40","w":1100,"v":22},{"s":"PMAQA+Aβ40","w":1090,"v":16},{"s":"PMAQA+Aβ40","w":1080,"v":17},{"s":"PMAQA+Aβ40","w":1070,"v":23},{"s":"PMAQA+Aβ40","w":1060,"v":32},{"s":"PMAQA+Aβ40","w":1050,"v":38},{"s":"PMAQA+Aβ40","w":1040,"v":42},{"s":"PMAQA+Aβ40","w":1030,"v":37},{"s":"PMAQA+Aβ40","w":1020,"v":28},{"s":"PMAQA+Aβ40","w":1012,"v":27},{"s":"PMAQA+Aβ40","w":1000,"v":33},{"s":"PMAQA+Aβ40","w":990,"v":35},{"s":"PMAQA+Aβ40","w":975,"v":34},{"s":"PMAQA+Aβ40","w":960,"v":35},{"s":"PMAQA+Aβ40","w":945,"v":35},{"s":"PMAQA+Aβ40","w":930,"v":38},{"s":"PMAQA+Aβ40","w":915,"v":42},{"s":"PMAQA+Aβ40","w":900,"v":45}
  ]
},
"spacing": 25,
"resolve": {"scale": {"color": "independent", "stroke": "independent", "strokeDash": "independent"}, "legend": {"color": "independent"}},
"vconcat": [
  {
    "spacing": 81,
    "resolve": {"scale": {"color": "independent", "stroke": "independent", "strokeDash": "independent"}},
    "hconcat": [
      {
        "width": 434, "height": 357,
        "encoding": {
          "x": {"field": "w", "type": "quantitative", "scale": {"domain": [189.6, 250], "nice": false, "zero": false},
                "axis": {"title": null, "values": [190,195,200,205,210,215,220,225,230,235,240,245,250], "labelExpr": "datum.value % 10 == 0 ? '' + datum.value : ''", "tickSize": {"condition": {"test": "datum.value % 10 != 0", "value": 4}, "value": 7}, "labelPadding": 5}},
          "y": {"field": "v", "type": "quantitative", "scale": {"domain": [-4, 2.5], "nice": false, "zero": false},
                "axis": {"title": "[Θ] x 10³ (deg. cm².dmol⁻¹)", "values": [-4,-3.5,-3,-2.5,-2,-1.5,-1,-0.5,0,0.5,1,1.5,2,2.5], "labelExpr": "datum.value % 1 == 0 ? '' + datum.value : ''", "tickSize": {"condition": {"test": "datum.value % 1 != 0", "value": 3}, "value": 6}, "labelPadding": 2, "titlePadding": 8}}
        },
        "layer": [
          {
            "data": {"name": "A"},
            "transform": [{"fold": ["0 h","6 h","1 d","2 d","3 d","4 d","5 d"], "as": ["s", "v"]}, {"filter": {"field": "v", "valid": true}}],
            "layer": [
              {"mark": {"type": "line", "strokeWidth": 2, "strokeDash": [2, 2]}, "encoding": {"stroke": {"field": "s", "type": "nominal", "scale": {"domain": ["0 h","6 h","1 d","2 d","3 d","4 d","5 d"], "range": ["#4a4a4a","#ee2b2b","#3d56b3","#2f9e50","#a877cf","#c99d25","#3ebfbf"]}, "legend": null}}},
              {"mark": {"type": "point", "filled": true, "size": 60, "opacity": 1}, "encoding": {"color": {"field": "s", "type": "nominal", "scale": {"domain": ["0 h","6 h","1 d","2 d","3 d","4 d","5 d"], "range": ["#4a4a4a","#ee2b2b","#3d56b3","#2f9e50","#a877cf","#c99d25","#3ebfbf"]}, "legend": null}}},
              {"mark": {"type": "point", "filled": true, "size": 5, "opacity": 0.75, "color": "white"}}
            ]
          },
          {
            "data": {"values": [{"t": "(A)", "w": 175.3, "v": 2.52}, {"t": "Aβ40+PMAQA", "w": 233, "v": 1.28}]},
            "mark": {"type": "text", "fontSize": 27, "fontWeight": "bold", "color": "#111"},
            "encoding": {"text": {"field": "t"}}
          }
        ]
      },
      {
        "width": 434, "height": 322,
        "resolve": {"scale": {"x": "independent", "y": "independent"}, "axis": {"x": "independent", "y": "independent"}},
        "layer": [
          {
            "encoding": {
              "x": {"field": "w", "type": "quantitative", "scale": {"domain": [1725, 1550], "nice": false, "zero": false},
                    "axis": {"orient": "bottom", "offset": -194, "title": null, "values": [1725,1712.5,1700,1687.5,1675,1662.5,1650,1637.5,1625,1612.5,1600,1587.5,1575,1562.5,1550], "labelExpr": "datum.value % 25 == 0 ? '' + datum.value : ''", "labelFontSize": 20, "tickSize": {"condition": {"test": "datum.value % 25 != 0", "value": 3}, "value": 5}, "labelPadding": 2}},
              "y": {"field": "v", "type": "quantitative", "scale": {"domain": [-194, 128], "nice": false, "zero": false}, "axis": null}
            },
            "layer": [
              {"data": {"values": [{"w": 1678, "w2": 1669, "v": 129, "v2": 0}, {"w": 1652.2, "w2": 1647.7, "v": 129, "v2": 0}, {"w": 1627, "w2": 1622.8, "v": 129, "v2": 0}]},
               "mark": {"type": "rect", "color": "#ffd08a"}, "encoding": {"x2": {"field": "w2"}, "y2": {"field": "v2"}}},
              {"data": {"name": "B1"}, "mark": {"type": "line", "strokeWidth": 2, "strokeDash": [3, 2], "interpolate": "monotone"},
               "encoding": {"color": {"field": "s", "type": "nominal", "scale": {"domain": ["PMAQA", "Aβ40", "PMAQA+Aβ40"], "range": ["#111111", "#ee3333", "#33a033"]}, "legend": null}}},
              {"data": {"values": [{"t": "turns", "w": 1673.5, "v": 46}, {"t": "α-helix", "w": 1657.6, "v": 46}, {"t": "β-sheet", "w": 1634.4, "v": 33}]},
               "mark": {"type": "text", "angle": 270, "align": "left", "baseline": "middle", "fontSize": 28, "color": "#111"}, "encoding": {"text": {"field": "t"}}},
              {"data": {"values": [{"t": "PMAQA+Aβ40", "w": 1578.6, "v": 138}]},
               "mark": {"type": "text", "fontSize": 24, "fontWeight": "bold", "color": "#33a033"}, "encoding": {"text": {"field": "t"}}},
              {"data": {"values": [{"t": "Aβ40", "w": 1567.4, "v": 56}]},
               "mark": {"type": "text", "fontSize": 24, "fontWeight": "bold", "color": "#ee3333"}, "encoding": {"text": {"field": "t"}}},
              {"data": {"values": [{"t": "(B)", "w": 1526.8, "v": 119}]},
               "mark": {"type": "text", "fontSize": 27, "fontWeight": "bold", "color": "#111"}, "encoding": {"text": {"field": "t"}}}
            ]
          },
          {
            "encoding": {
              "x": {"field": "w", "type": "quantitative", "scale": {"domain": [1800, 900], "nice": false, "zero": false},
                    "axis": {"orient": "bottom", "title": "Wavenumber (cm⁻¹)", "values": [1800,1755,1710,1665,1620,1575,1530,1485,1440,1395,1350,1305,1260,1215,1170,1125,1080,1035,990,945,900], "labelExpr": "datum.value % 180 == 0 ? '' + datum.value : ''", "tickSize": {"condition": {"test": "datum.value % 180 != 0", "value": 4}, "value": 7}, "labelPadding": 2, "titlePadding": 18}},
              "y": {"field": "v", "type": "quantitative", "scale": {"domain": [0, 322], "nice": false, "zero": false}, "axis": null}
            },
            "layer": [
              {"data": {"name": "B2"}, "mark": {"type": "line", "strokeWidth": 2, "interpolate": "monotone"},
               "encoding": {"color": {"field": "s", "type": "nominal", "scale": {"domain": ["PMAQA", "Aβ40", "PMAQA+Aβ40"], "range": ["#111111", "#ee3333", "#33a033"]}, "legend": null},
                            "strokeDash": {"field": "s", "type": "nominal", "scale": {"domain": ["PMAQA", "Aβ40", "PMAQA+Aβ40"], "range": [[1, 0], [3, 2], [3, 2]]}, "legend": null}}},
              {"data": {"values": [{"t": "PMAQA", "w": 1002, "v": 55}]},
               "mark": {"type": "text", "fontSize": 24, "fontWeight": "bold", "color": "#111"}, "encoding": {"text": {"field": "t"}}}
            ]
          }
        ]
      }
    ]
  },
  {
    "spacing": 39,
    "resolve": {"scale": {"color": "independent", "stroke": "independent", "strokeDash": "independent"}, "legend": {"color": "independent"}},
    "hconcat": [
      {
        "width": 434, "height": 357,
        "encoding": {
          "x": {"field": "w", "type": "quantitative", "scale": {"domain": [189.6, 250], "nice": false, "zero": false},
                "axis": {"title": "Wavelength (nm)", "values": [190,195,200,205,210,215,220,225,230,235,240,245,250], "labelExpr": "datum.value % 10 == 0 ? '' + datum.value : ''", "tickSize": {"condition": {"test": "datum.value % 10 != 0", "value": 4}, "value": 7}, "labelPadding": 6, "titlePadding": 7}},
          "y": {"field": "v", "type": "quantitative", "scale": {"domain": [-10, 17.5], "nice": false, "zero": false},
                "axis": {"title": "[Θ] x 10³ (deg. cm².dmol⁻¹)", "values": [-10,-7.5,-5,-2.5,0,2.5,5,7.5,10,12.5,15,17.5], "labelExpr": "datum.value == -10 ? '10' : (datum.value % 5 == 0 ? '' + datum.value : '')", "tickSize": {"condition": {"test": "datum.value % 5 != 0", "value": 3}, "value": 6}, "labelPadding": 4, "titlePadding": 5}}
        },
        "layer": [
          {
            "data": {"name": "C"},
            "transform": [{"fold": ["0 h","6 h","1 d","2 d","3 d","4 d","5 d"], "as": ["s", "v"]}, {"filter": {"field": "v", "valid": true}}],
            "layer": [
              {"mark": {"type": "line", "strokeWidth": 2, "strokeDash": [2, 2]}, "encoding": {"stroke": {"field": "s", "type": "nominal", "scale": {"domain": ["6 h","0 h","1 d","2 d","3 d","4 d","5 d"], "range": ["#ee2b2b","#4a4a4a","#3d56b3","#2f9e50","#a877cf","#c99d25","#3ebfbf"]}, "legend": null}}},
              {"mark": {"type": "point", "filled": true, "size": 45, "opacity": 1}, "encoding": {"color": {"field": "s", "type": "nominal", "scale": {"domain": ["0 h","6 h","1 d","2 d","3 d","4 d","5 d"], "range": ["#4a4a4a","#ee2b2b","#3d56b3","#2f9e50","#a877cf","#c99d25","#3ebfbf"]},
                "legend": {"orient": "none", "legendX": 441, "legendY": -10, "title": null, "symbolType": "M-6.8,-0.25h0.5v0.5h-0.5z M-5.6,-0.25h0.5v0.5h-0.5z M-4.3,-0.25h0.5v0.5h-0.5z M0.1,-0.25h0.5v0.5h-0.5z M-1.2,0 A1.1,1.1 0 1,1 -3.4,0 A1.1,1.1 0 1,1 -1.2,0 Z", "symbolSize": 100, "symbolStrokeWidth": 0, "labelFontSize": 25, "labelFontWeight": "bold", "labelColor": "#111", "labelOffset": 8, "rowPadding": 0}}}},
              {"mark": {"type": "point", "filled": true, "size": 4, "opacity": 0.75, "color": "white"}}
            ]
          },
          {
            "data": {"values": [{"t": "(C)", "w": 175.3, "v": 17.96}, {"t": "hIAPP", "w": 216, "v": 15.4}]},
            "mark": {"type": "text", "fontSize": 27, "fontWeight": "bold", "color": "#111"},
            "encoding": {"text": {"field": "t"}}
          }
        ]
      },
      {
        "width": 436, "height": 359,
        "encoding": {
          "x": {"field": "w", "type": "quantitative", "scale": {"domain": [190, 250], "nice": false, "zero": false},
                "axis": {"title": "Wavelength (nm)", "values": [190,195,200,205,210,215,220,225,230,235,240,245,250], "labelExpr": "datum.value % 10 == 0 ? '' + datum.value : ''", "tickSize": {"condition": {"test": "datum.value % 10 != 0", "value": 4}, "value": 7}, "labelPadding": 6, "titlePadding": 7}},
          "y": {"field": "v", "type": "quantitative", "scale": {"domain": [-9, 4.25], "nice": false, "zero": false},
                "axis": {"title": "[Θ] x 10³ (deg. cm².dmol⁻¹)", "values": [-9,-8,-7,-6,-5,-4,-3,-2,-1,0,1,2,3,4], "labelExpr": "datum.value % 2 == 0 ? '' + datum.value : ''", "tickSize": {"condition": {"test": "datum.value % 2 != 0", "value": 3}, "value": 6}, "labelPadding": 5, "titlePadding": 12}}
        },
        "layer": [
          {
            "data": {"name": "D"},
            "transform": [{"fold": ["0 h","6 h","1 d","2 d","3 d","4 d","5 d"], "as": ["s", "v"]}, {"filter": {"field": "v", "valid": true}}],
            "layer": [
              {"mark": {"type": "line", "strokeWidth": 2, "strokeDash": [2, 2]}, "encoding": {"stroke": {"field": "s", "type": "nominal", "scale": {"domain": ["0 h","6 h","1 d","2 d","3 d","4 d","5 d"], "range": ["#4a4a4a","#ee2b2b","#3d56b3","#2f9e50","#a877cf","#c99d25","#3ebfbf"]}, "legend": null}}},
              {"mark": {"type": "point", "filled": true, "size": 45, "opacity": 1}, "encoding": {"color": {"field": "s", "type": "nominal", "scale": {"domain": ["0 h","6 h","1 d","2 d","3 d","4 d","5 d"], "range": ["#4a4a4a","#ee2b2b","#3d56b3","#2f9e50","#a877cf","#c99d25","#3ebfbf"]}, "legend": null}}},
              {"mark": {"type": "point", "filled": true, "size": 4, "opacity": 0.75, "color": "white"}}
            ]
          },
          {
            "data": {"values": [{"t": "(D)", "w": 249.3, "v": 4.0}, {"t": "hIAPP+PMAQA", "w": 218.5, "v": 3.26}]},
            "mark": {"type": "text", "fontSize": 27, "fontWeight": "bold", "color": "#111"},
            "encoding": {"text": {"field": "t"}}
          }
        ]
      }
    ]
  }
]
}
